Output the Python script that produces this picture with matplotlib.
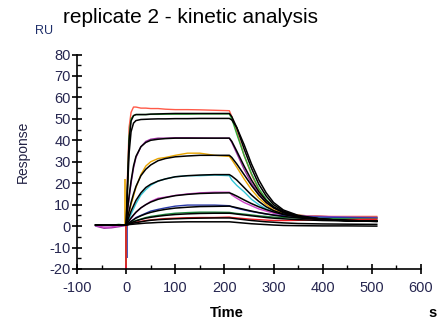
import numpy as np
import matplotlib
matplotlib.use("Agg")
import matplotlib.pyplot as plt
from matplotlib.ticker import MultipleLocator

plt.rcParams['font.family'] = ['Liberation Sans', 'DejaVu Sans']
plt.rcParams['axes.unicode_minus'] = False

# time axis shared by every curve (s)
time_s = [-62, -45, -30, -15, -2, 0, 3, 6, 10, 15, 20, 30, 40, 50, 65, 80, 100, 125,
          150, 180, 210, 215, 225, 240, 255, 270, 285, 300, 320, 350, 400, 450, 510]

# fitted curves (black)
fit_1 = [0.5, 0.5, 0.5, 0.5, 0.5, 0.5, 22, 40, 49, 51.5, 52, 52, 52, 52.2, 52.3, 52.4, 52.5, 52.5,
         52.5, 52.5, 52.5, 51, 46, 36, 27, 19.5, 14, 10, 7, 4.5, 3, 2.5, 2.2]
fit_2 = [0.5, 0.5, 0.5, 0.5, 0.5, 0.5, 18, 34, 44, 48, 49.2, 49.7, 49.8, 49.9, 50, 50, 50.1, 50.1,
         50.2, 50.2, 50.2, 49.5, 46, 38, 29, 21.5, 15.5, 11, 7.5, 5, 3.2, 2.5, 2.2]
fit_3 = [0.5, 0.5, 0.5, 0.5, 0.5, 0.5, 8, 14, 21, 28, 32.5, 37, 39, 40, 40.5, 40.8, 41, 41,
         41, 41, 41, 39.5, 35, 28, 21.5, 16, 12, 9, 6.5, 4.5, 3.2, 2.6, 2.3]
fit_4 = [0.5, 0.5, 0.5, 0.5, 0.5, 0.5, 4, 7, 11, 15, 18.5, 23.5, 26.5, 28.5, 30.5, 31.5, 32.3, 32.7,
         33, 33, 33, 32, 29, 24, 19, 14.5, 11, 8.5, 6.2, 4.5, 3.2, 2.6, 2.3]
fit_5 = [0.5, 0.5, 0.5, 0.5, 0.5, 0.5, 2.5, 4.5, 7, 9.5, 12, 15.5, 18, 19.5, 21, 22, 23, 23.5,
         23.8, 24, 24, 23.3, 21.5, 18, 14.5, 11.5, 9, 7.2, 5.6, 4.3, 3.2, 2.6, 2.3]
fit_6 = [0.5, 0.5, 0.5, 0.5, 0.5, 0.5, 1.5, 2.5, 3.8, 5.2, 6.5, 8.5, 10, 11.2, 12.5, 13.3, 14.2, 14.8,
         15.2, 15.4, 15.5, 15.1, 14, 12.2, 10.5, 9, 7.7, 6.6, 5.4, 4.3, 3.2, 2.6, 2.3]
fit_7 = [0.5, 0.5, 0.5, 0.5, 0.5, 0.5, 1, 1.5, 2.2, 3, 3.7, 4.8, 5.7, 6.4, 7.2, 7.8, 8.4, 8.8,
         9.1, 9.2, 9.3, 9.1, 8.6, 7.8, 7, 6.3, 5.7, 5.1, 4.5, 3.8, 3, 2.6, 2.3]
fit_8 = [0.5, 0.5, 0.5, 0.5, 0.5, 0.5, 0.8, 1.1, 1.5, 2, 2.4, 3.1, 3.7, 4.1, 4.6, 5, 5.4, 5.7,
         5.9, 6, 6, 5.9, 5.6, 5.2, 4.8, 4.4, 4, 3.7, 3.4, 3, 2.6, 2.4, 2.2]
fit_9 = [0.5, 0.5, 0.5, 0.5, 0.5, 0.5, 0.7, 0.9, 1.1, 1.4, 1.6, 2, 2.4, 2.7, 3, 3.2, 3.4, 3.6,
         3.7, 3.8, 3.8, 3.7, 3.4, 3, 2.6, 2.3, 2, 1.8, 1.5, 1.2, 1, 0.9, 0.8]
fit_10 = [0.5, 0.5, 0.5, 0.5, 0.5, 0.5, 0.6, 0.7, 0.8, 0.9, 1, 1.2, 1.4, 1.5, 1.7, 1.8, 1.9, 2,
          2, 2, 2, 1.9, 1.7, 1.4, 1.1, 0.9, 0.7, 0.5, 0.3, 0.2, 0.1, 0.1, 0]

# measured sensorgrams (coloured)
meas_1 = [0.5, 0.3, 0.5, 0.4, 0.5, 0, 25, 46, 53, 55.5, 55.5, 55, 55, 54.8, 54.8, 54.5, 54.3, 54.3,
          54.2, 54, 53.8, 51, 44, 33, 24, 17, 12, 8.5, 6.5, 5, 4.5, 4.5, 4.5]
meas_2 = [0.5, 0.6, 0.4, 0.8, 0.5, 0, 20, 42, 50, 51.5, 52, 52, 52, 52.1, 52.1, 52.2, 52.2, 52.2,
          52.3, 52.3, 52.3, 50, 43, 33, 24.5, 17.5, 12.5, 9, 6.5, 5, 4, 4, 4]
meas_3 = [0, -1, -0.8, -0.3, 0.2, 0, 7, 13, 20, 27, 32, 37, 39.5, 40.5, 41, 41, 41.2, 41.2,
          41.1, 41, 41, 39, 34, 26.5, 20, 15, 11, 8.5, 6.5, 5, 4.5, 4, 4]
meas_4 = [0.5, 0.4, 0.5, 0.6, 0.5, 0, 3.5, 6.5, 10, 14, 18, 24, 28, 30, 31.5, 32, 33, 34,
          34, 33, 32.5, 31, 27.5, 22, 17, 13, 10, 7.5, 6, 5, 4.5, 4, 4]
meas_5 = [0.3, 0.2, 0.4, 0.5, 0.4, 0, 2, 3.5, 5.5, 8, 10.5, 14.5, 17, 19, 21, 22, 23, 23.5,
          23.5, 23.8, 23.5, 21.5, 19, 16, 12.5, 10, 8, 6.5, 5.5, 4.8, 4.2, 4, 3.8]
meas_6 = [0.3, -0.5, -0.4, 0.2, 0.4, 0, 1.5, 2.5, 3.5, 5, 6.3, 8.5, 10, 11.5, 13, 13.5, 14.3, 15,
          15.5, 15.8, 15.8, 14.5, 13, 11, 9.5, 8, 7, 6, 5.2, 4.8, 4.5, 4.2, 4]
meas_7 = [0.4, 0.5, 0.3, 0.5, 0.5, 0, 1, 1.5, 2.2, 3, 4, 5, 6, 7, 7.8, 8.5, 9.3, 9.8,
          9.8, 9.8, 9.5, 9, 8.3, 7.5, 6.8, 6.2, 5.6, 5.2, 4.8, 4.5, 4.2, 4, 3.8]
meas_8 = [0.5, 0.4, 0.6, 0.5, 0.5, 0, 0.8, 1.2, 1.6, 2.2, 2.6, 3.3, 4, 4.5, 5, 5.5, 6, 6.3,
          6.5, 6.5, 6.4, 6.2, 5.9, 5.6, 5.2, 4.8, 4.5, 4.2, 4, 3.8, 3.5, 3.4, 3.3]
meas_9 = [0.4, 0.5, 0.5, 0.4, 0.5, 0, 0.5, 0.8, 1.1, 1.5, 1.8, 2.2, 2.6, 2.9, 3.2, 3.5, 3.7, 3.9,
          4, 4, 4.2, 4, 3.8, 3.5, 3.2, 3, 2.8, 2.6, 2.6, 2.7, 3, 3, 3.2]

fits = [fit_1, fit_2, fit_3, fit_4, fit_5, fit_6, fit_7, fit_8, fit_9, fit_10]
measured = [meas_1, meas_2, meas_3, meas_4, meas_5, meas_6, meas_7, meas_8, meas_9]
meas_colors = ['#ff5a48', '#2eae3a', '#9a2fa0', '#e8a400', '#34c6d6',
               '#cc40c6', '#2a3aa8', '#1f8a3e', '#ee1c24']

# injection spikes at t~0
spike_t = [-2, 1, 0.5, -1, 0]
spike_lo = [0, -15, -20, -18, -20]
spike_hi = [22, 0, 0, 0, 0]
spike_colors = ['#e8a400', '#2a3aa8', '#9a2fa0', '#2eae3a', '#ee1c24']

fig = plt.figure(figsize=(4.39, 3.26), dpi=100)
ax = fig.add_axes([77 / 439, 1 - 269 / 326, 344 / 439, 214.5 / 326])

for y, c in zip(measured, meas_colors):
    ax.plot(time_s, y, color=c, lw=1.0, zorder=2)
for y in fits:
    ax.plot(time_s, y, color='black', lw=1.1, zorder=3)
for t, lo, hi, c in zip(spike_t, spike_lo, spike_hi, spike_colors):
    ax.vlines(t, lo, hi, colors=c, lw=1.2, zorder=2)

ax.set_xlim(-100, 600)
ax.set_ylim(-20, 80)
ax.xaxis.set_major_locator(MultipleLocator(100))
ax.xaxis.set_minor_locator(MultipleLocator(50))
ax.yaxis.set_major_locator(MultipleLocator(10))
ax.yaxis.set_minor_locator(MultipleLocator(5))
for s in ['top', 'right']:
    ax.spines[s].set_visible(False)
for s in ['left', 'bottom']:
    ax.spines[s].set_linewidth(1.2)
ax.tick_params(which='major', direction='inout', length=7, width=1.2,
               labelsize=10.5, labelcolor='#262650', pad=1)
ax.tick_params(axis='x', which='major', pad=5)
ax.tick_params(which='minor', direction='in', length=3, width=1)

fig.text(0.433, 0.947, 'replicate 2 - kinetic analysis', fontsize=15,
         ha='center', va='center')
fig.text(0.1, 0.905, 'RU', fontsize=9, color='#1f2f6a', ha='center', va='center')
fig.text(0.053, 0.535, 'Response', fontsize=10, rotation=90, color='#222244',
         ha='center', va='center')
fig.text(0.517, 0.04, 'Time', fontsize=10.5, fontweight='bold', ha='center', va='center')
fig.text(0.986, 0.04, 's', fontsize=10.5, fontweight='bold', ha='center', va='center')

fig.savefig('out.png', dpi=100)
